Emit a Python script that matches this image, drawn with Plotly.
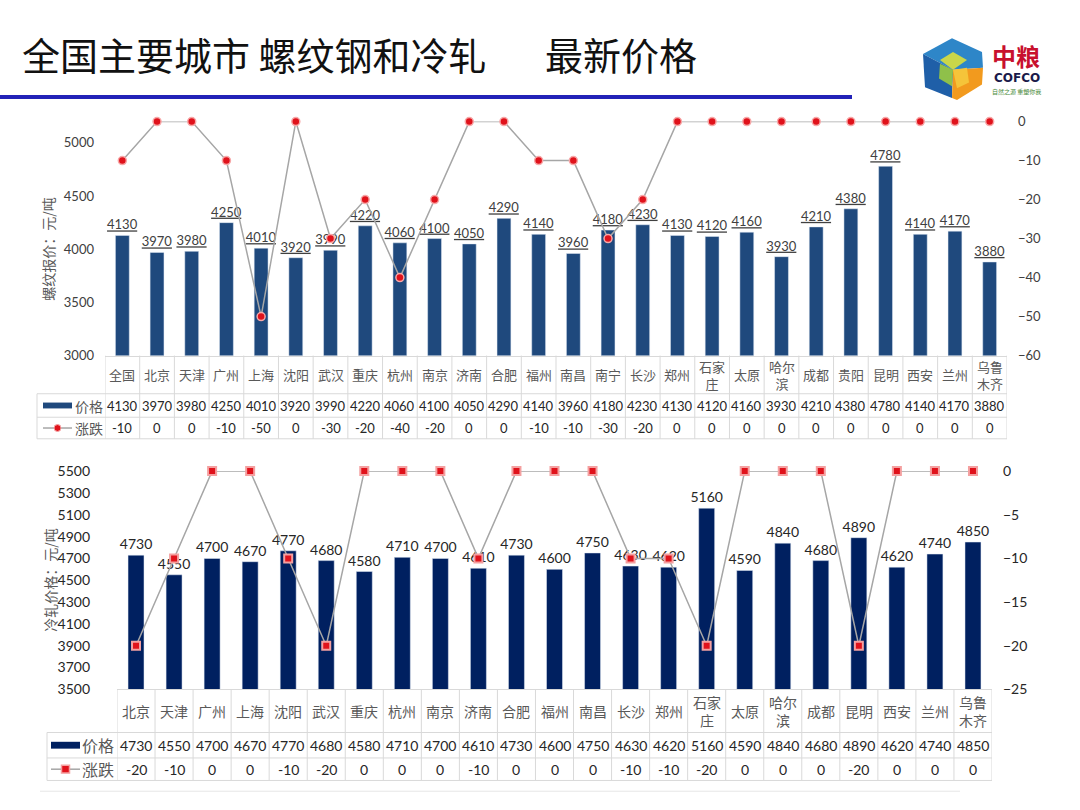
import plotly.graph_objects as go

# ---------------- data ----------------
cities_rebar = ["全国", "北京", "天津", "广州", "上海", "沈阳", "武汉", "重庆", "杭州", "南京",
                "济南", "合肥", "福州", "南昌", "南宁", "长沙", "郑州", "石家庄", "太原", "哈尔滨",
                "成都", "贵阳", "昆明", "西安", "兰州", "乌鲁木齐"]
labels_rebar = ["全国", "北京", "天津", "广州", "上海", "沈阳", "武汉", "重庆", "杭州", "南京",
                "济南", "合肥", "福州", "南昌", "南宁", "长沙", "郑州", "石家<br>庄", "太原", "哈尔<br>滨",
                "成都", "贵阳", "昆明", "西安", "兰州", "乌鲁<br>木齐"]
price_rebar = [4130, 3970, 3980, 4250, 4010, 3920, 3990, 4220, 4060, 4100,
               4050, 4290, 4140, 3960, 4180, 4230, 4130, 4120, 4160, 3930,
               4210, 4380, 4780, 4140, 4170, 3880]
change_rebar = [-10, 0, 0, -10, -50, 0, -30, -20, -40, -20,
                0, 0, -10, -10, -30, -20, 0, 0, 0, 0,
                0, 0, 0, 0, 0, 0]

cities_cold = ["北京", "天津", "广州", "上海", "沈阳", "武汉", "重庆", "杭州", "南京", "济南",
               "合肥", "福州", "南昌", "长沙", "郑州", "石家庄", "太原", "哈尔滨", "成都", "昆明",
               "西安", "兰州", "乌鲁木齐"]
labels_cold = ["北京", "天津", "广州", "上海", "沈阳", "武汉", "重庆", "杭州", "南京", "济南",
               "合肥", "福州", "南昌", "长沙", "郑州", "石家<br>庄", "太原", "哈尔<br>滨", "成都", "昆明",
               "西安", "兰州", "乌鲁<br>木齐"]
price_cold = [4730, 4550, 4700, 4670, 4770, 4680, 4580, 4710, 4700, 4610,
              4730, 4600, 4750, 4630, 4620, 5160, 4590, 4840, 4680, 4890,
              4620, 4740, 4850]
change_cold = [-20, -10, 0, 0, -10, -20, 0, 0, 0, -10,
               0, 0, 0, -10, -10, -20, 0, 0, 0, -20,
               0, 0, 0]

title_main = "全国主要城市 螺纹钢和冷轧"
title_tail = "最新价格"
ytitle_rebar = "螺纹报价：元/吨"
ytitle_cold = "冷轧价格：元/吨"
legend_price = "价格"
legend_change = "涨跌"

# ---------------- helpers ----------------
W, H = 1080, 810
def px(x):
    return x / W
def py(y):
    return 1 - y / H

CJK = "Noto Sans CJK SC"
NUM = "Lato"
GRID = "#D9D9D9"
TXT = "#595959"

fig = go.Figure()

# ---------------- top chart ----------------
fig.add_trace(go.Bar(
    x=cities_rebar, y=price_rebar, xaxis="x", yaxis="y",
    marker=dict(color="#1F497D"), width=0.4,
    text=["<u>%d</u>" % v for v in price_rebar], textposition="outside",
    textfont=dict(family=NUM, size=13, color="#404040"),
    constraintext="none", cliponaxis=False, showlegend=False))
fig.add_trace(go.Scatter(
    x=cities_rebar, y=change_rebar, xaxis="x", yaxis="y2", mode="lines+markers",
    line=dict(color="#A6A6A6", width=1.5),
    marker=dict(symbol="circle", size=8, color="#E0121B",
                line=dict(color="#F7A8A8", width=1.5)),
    cliponaxis=False, showlegend=False))

# ---------------- bottom chart ----------------
fig.add_trace(go.Bar(
    x=cities_cold, y=price_cold, xaxis="x2", yaxis="y3",
    marker=dict(color="#002060"), width=0.42,
    text=[str(v) for v in price_cold], textposition="outside",
    textfont=dict(family=NUM, size=14, color="#262626"),
    constraintext="none", cliponaxis=False, showlegend=False))
fig.add_trace(go.Scatter(
    x=cities_cold, y=change_cold, xaxis="x2", yaxis="y4", mode="lines+markers",
    line=dict(color="#A6A6A6", width=1.5),
    marker=dict(symbol="square", size=8, color="#E0121B",
                line=dict(color="#F4A0A0", width=2)),
    cliponaxis=False, showlegend=False))

shapes = []
annotations = []

def ann(**kw):
    kw.setdefault("showarrow", False)
    kw.setdefault("xanchor", "center")
    kw.setdefault("yanchor", "middle")
    annotations.append(kw)

def build_table(xref, cats, labels, prices, changes, axis_bottom, row1, row2, row3,
                left, plot_left, leg_rect, leg_text_x, cat_size, num_size, leg_size,
                bar_color, marker_symbol):
    n = len(cats)
    for i in range(n + 1):
        shapes.append(dict(type="line", xref=xref, yref="paper", x0=i - 0.5, x1=i - 0.5,
                           y0=py(axis_bottom), y1=py(row3), line=dict(color=GRID, width=1)))
    for yy in (row1, row2, row3):
        shapes.append(dict(type="line", xref=xref, yref="paper", x0=-0.5, x1=n - 0.5,
                           y0=py(yy), y1=py(yy), line=dict(color=GRID, width=1)))
        shapes.append(dict(type="line", xref="paper", yref="paper", x0=px(left), x1=px(plot_left),
                           y0=py(yy), y1=py(yy), line=dict(color=GRID, width=1)))
    shapes.append(dict(type="line", xref="paper", yref="paper", x0=px(left), x1=px(left),
                       y0=py(row1), y1=py(row3), line=dict(color=GRID, width=1)))
    for i in range(n):
        ann(xref=xref, yref="paper", x=i, y=py((axis_bottom + row1) / 2),
            text=labels[i], font=dict(family=CJK, size=cat_size, color=TXT))
        ann(xref=xref, yref="paper", x=i, y=py((row1 + row2) / 2),
            text=str(prices[i]), font=dict(family=NUM, size=num_size, color="#262626"))
        ann(xref=xref, yref="paper", x=i, y=py((row2 + row3) / 2),
            text=str(changes[i]), font=dict(family=NUM, size=num_size, color="#262626"))
    lx0, lx1, rh = leg_rect
    yc1 = (row1 + row2) / 2
    yc2 = (row2 + row3) / 2
    shapes.append(dict(type="rect", xref="paper", yref="paper", x0=px(lx0), x1=px(lx1),
                       y0=py(yc1 + rh / 2), y1=py(yc1 - rh / 2), fillcolor=bar_color,
                       line=dict(width=0)))
    shapes.append(dict(type="line", xref="paper", yref="paper", x0=px(lx0), x1=px(lx1),
                       y0=py(yc2), y1=py(yc2), line=dict(color="#A6A6A6", width=1.5)))
    mx = (lx0 + lx1) / 2
    if marker_symbol == "circle":
        shapes.append(dict(type="circle", xref="paper", yref="paper", x0=px(mx - 3.5), x1=px(mx + 3.5),
                           y0=py(yc2 + 3.5), y1=py(yc2 - 3.5), fillcolor="#E0121B",
                           line=dict(color="#F7A8A8", width=1)))
    else:
        shapes.append(dict(type="rect", xref="paper", yref="paper", x0=px(mx - 4), x1=px(mx + 4),
                           y0=py(yc2 + 4), y1=py(yc2 - 4), fillcolor="#E0121B",
                           line=dict(color="#F4A0A0", width=1.5)))
    ann(xref="paper", yref="paper", x=px(leg_text_x), y=py(yc1), text=legend_price,
        font=dict(family=CJK, size=leg_size, color=TXT))
    ann(xref="paper", yref="paper", x=px(leg_text_x), y=py(yc2), text=legend_change,
        font=dict(family=CJK, size=leg_size, color=TXT))

build_table("x", cities_rebar, labels_rebar, price_rebar, change_rebar,
            354, 393, 417, 439, 37, 105, (43, 72, 6), 89, 13, 13, 14, "#1F497D", "circle")
build_table("x2", cities_cold, labels_cold, price_cold, change_cold,
            695, 739, 765, 788, 47, 117, (51, 80, 7), 98, 14, 14, 16, "#002060", "square")

# title
ann(xref="paper", yref="paper", x=px(20), y=py(45), xanchor="left", text=title_main,
    font=dict(family=CJK, size=38, color="#111111"))
ann(xref="paper", yref="paper", x=px(543), y=py(45), xanchor="left", text=title_tail,
    font=dict(family=CJK, size=38, color="#111111"))
shapes.append(dict(type="line", xref="paper", yref="paper", x0=0, x1=px(852),
                   y0=py(90), y1=py(90), line=dict(color="#2222B8", width=4)))
shapes.append(dict(type="line", xref="paper", yref="paper", x0=px(40), x1=px(960),
                   y0=py(799), y1=py(799), line=dict(color="#E6E6E6", width=1)))

# y-axis titles
ann(xref="paper", yref="paper", x=px(48), y=py(245), text=ytitle_rebar, textangle=-90,
    font=dict(family=CJK, size=14, color=TXT))
ann(xref="paper", yref="paper", x=px(50), y=py(583), text=ytitle_cold, textangle=-90,
    font=dict(family=CJK, size=14, color=TXT))

# ---------------- COFCO logo (decoration) ----------------
def poly(pts, color):
    d = "M " + " L ".join("%f,%f" % (px(x), py(y)) for x, y in pts) + " Z"
    shapes.append(dict(type="path", xref="paper", yref="paper", path=d,
                       fillcolor=color, line=dict(width=0)))
poly([(952, 30), (982, 44), (983, 60), (953, 62), (923, 46)], "#2E86C8")
poly([(923, 46), (953, 62), (952, 91), (925, 80)], "#1F5FA8")
poly([(953, 62), (983, 60), (982, 77), (957, 93), (952, 91)], "#F29A1E")
poly([(940, 52), (953, 44), (967, 52), (953, 62)], "#C9D64A")
poly([(953, 62), (967, 60), (969, 75), (957, 81)], "#F5C43A")
poly([(940, 56), (953, 62), (952, 79), (939, 71)], "#8FC04A")
ann(xref="paper", yref="paper", x=px(1016), y=py(47), text="<b>中粮</b>",
    font=dict(family=CJK, size=24, color="#C8102E"))
ann(xref="paper", yref="paper", x=px(1017), y=py(70), text="<b>COFCO</b>",
    font=dict(family="DejaVu Sans", size=12, color="#1A1A4A"))
ann(xref="paper", yref="paper", x=px(1016), y=py(84), text="自然之源 重塑你我",
    font=dict(family=CJK, size=6, color="#4A8A3A"))

axis_common = dict(showgrid=False, zeroline=False, ticks="", showline=False)

fig.update_layout(
    width=W, height=H, margin=dict(l=0, r=0, t=0, b=0),
    paper_bgcolor="white", plot_bgcolor="rgba(0,0,0,0)",
    xaxis=dict(domain=[px(105), px(1007)], anchor="y", range=[-0.5, len(cities_rebar) - 0.5],
               showticklabels=False, showline=True, linecolor=GRID, linewidth=1,
               showgrid=False, zeroline=False, ticks=""),
    yaxis=dict(domain=[py(354), py(115)], range=[3000, 5200], tickvals=[3000, 3500, 4000, 4500, 5000],
               tickfont=dict(family=NUM, size=13, color="#404040"), ticklabelstandoff=10,
               **axis_common),
    yaxis2=dict(overlaying="y", anchor="x", side="right", range=[-60, 0], dtick=10,
                tickfont=dict(family=NUM, size=13, color="#404040"), ticklabelstandoff=10,
                **axis_common),
    xaxis2=dict(domain=[px(117), px(992)], anchor="y3", range=[-0.5, len(cities_cold) - 0.5],
                showticklabels=False, showline=True, linecolor=GRID, linewidth=1,
                showgrid=False, zeroline=False, ticks=""),
    yaxis3=dict(domain=[py(695), py(472)], range=[3500, 5500], tick0=3500, dtick=200,
                tickfont=dict(family=NUM, size=14, color="#262626"), ticklabelstandoff=14,
                **axis_common),
    yaxis4=dict(overlaying="y3", anchor="x2", side="right", range=[-25, 0], tick0=0, dtick=5,
                tickfont=dict(family=NUM, size=14, color="#262626"), ticklabelstandoff=10,
                **axis_common),
    shapes=shapes, annotations=annotations,
)

fig.write_html("out.html", config={"displayModeBar": False},
               post_script="document.body.style.margin='0px';")
